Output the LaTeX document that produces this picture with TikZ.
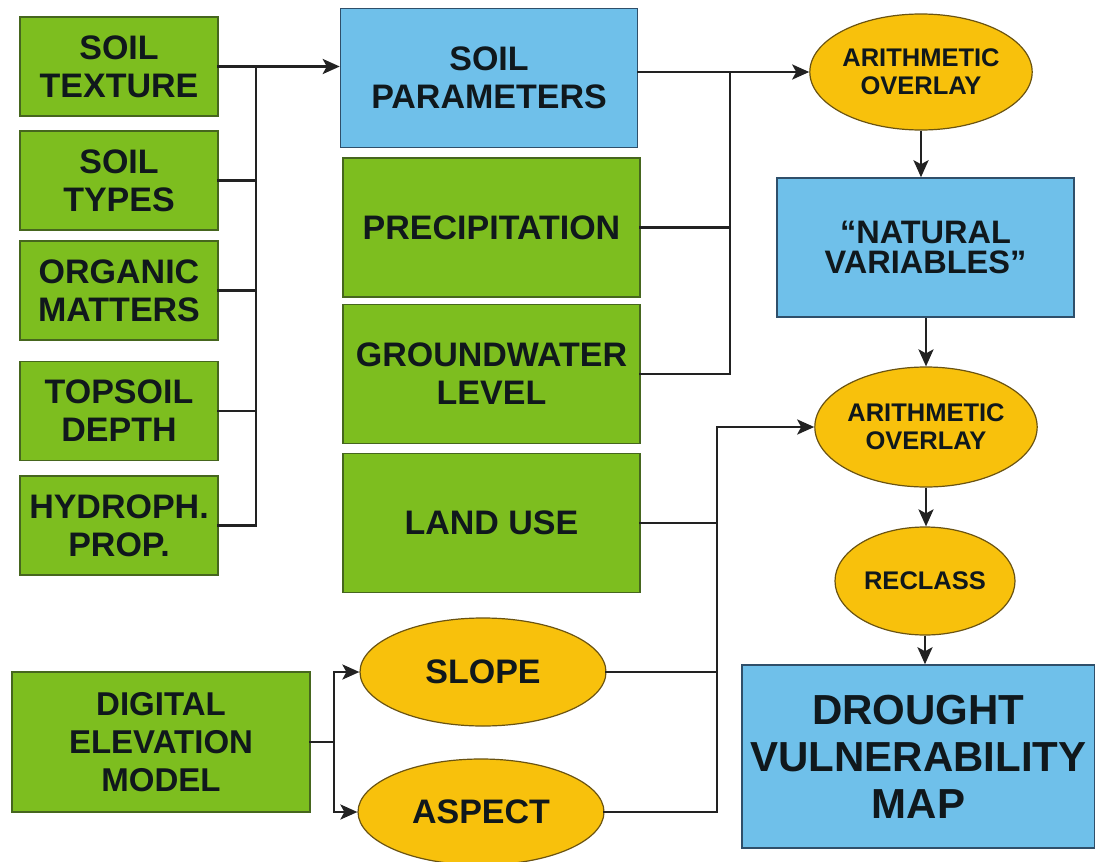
\documentclass[tikz,border=0pt]{standalone}
\usepackage{fontspec}
\setmainfont{Liberation Sans}
\usetikzlibrary{arrows.meta,shapes.geometric}
\definecolor{gfill}{HTML}{7DBE1F}
\definecolor{gdraw}{HTML}{46661E}
\definecolor{bfill}{HTML}{6FC0EA}
\definecolor{bdraw}{HTML}{2F4F6A}
\definecolor{ofill}{HTML}{F8C10C}
\definecolor{odraw}{HTML}{6A5312}
\definecolor{txt}{HTML}{10181C}
\definecolor{ln}{HTML}{222222}
\begin{document}
\begin{tikzpicture}[x=1pt,y=-1pt,
  every node/.style={inner sep=0pt, align=center, text=txt, font=\bfseries\fontsize{34}{38}\selectfont},
  greenbox/.style={rectangle, fill=gfill, draw=gdraw, line width=1.5pt},
  bluebox/.style={rectangle, fill=bfill, draw=bdraw, line width=1.5pt},
  oval/.style={ellipse, fill=ofill, draw=odraw, line width=1.2pt},
  lbox/.style={minimum width=198pt, minimum height=99pt},
  mbox/.style={minimum width=297pt, minimum height=139pt},
  smalltext/.style={font=\bfseries\fontsize{25.5}{28}\selectfont},
  conn/.style={draw=ln, line width=2.8pt, line cap=rect},
  arr/.style={draw=ln, line width=2.8pt, -{Stealth[length=17pt,width=15pt,inset=4pt]}},
]
\useasboundingbox (0,0) rectangle (1095,862);

% left column
\node[greenbox, lbox] (tex) at (119,66.5) {SOIL\\TEXTURE};
\node[greenbox, lbox] (typ) at (119,180.5) {SOIL\\TYPES};
\node[greenbox, lbox] (org) at (119,290.5) {ORGANIC\\MATTERS};
\node[greenbox, lbox] (top) at (119,411) {TOPSOIL\\DEPTH};
\node[greenbox, lbox] (hyd) at (119,525.5) {HYDROPH.\\PROP.};

% middle column
\node[bluebox, mbox] (par) at (489,78) {SOIL\\PARAMETERS};
\node[greenbox, mbox] (pre) at (491.5,227.5) {PRECIPITATION};
\node[greenbox, mbox] (gw) at (491.5,374) {GROUNDWATER\\LEVEL};
\node[greenbox, mbox] (lu) at (491.5,523) {LAND USE};

% DEM branch
\node[greenbox, minimum width=298pt, minimum height=140pt, font=\bfseries\fontsize{33}{38}\selectfont] (dem) at (161,742) {DIGITAL\\ELEVATION\\MODEL};
\node[oval, minimum width=246pt, minimum height=108pt] (slope) at (483,672) {SLOPE};
\node[oval, minimum width=246pt, minimum height=106pt] (asp) at (481,812) {ASPECT};

% right column
\node[oval, smalltext, minimum width=202pt, minimum height=116pt] (ov1) at (921,72) {ARITHMETIC\\OVERLAY};
\node[bluebox, mbox, font=\bfseries\fontsize{32.5}{30}\selectfont] (nat) at (925.5,247.5) {“NATURAL\\VARIABLES”};
\node[oval, smalltext, minimum width=204pt, minimum height=120pt] (ov2) at (926,427) {ARITHMETIC\\OVERLAY};
\node[oval, smalltext, minimum width=180pt, minimum height=108pt] (rec) at (925,581) {RECLASS};
\node[bluebox, minimum width=353pt, minimum height=183pt, font=\bfseries\fontsize{42}{47}\selectfont] (dvm) at (918.5,756.5) {DROUGHT\\VULNERABILITY\\MAP};

% bus coordinates
\coordinate (b1) at (256,0);
\coordinate (b2) at (730,0);
\coordinate (b3) at (717,0);
\coordinate (b4) at (334,0);

% left bus
\foreach \n in {tex,typ,org,top,hyd} \draw[conn] (\n.east) -- (\n.east -| b1);
\draw[conn] (tex.east -| b1) -- (hyd.east -| b1);
\draw[arr] (tex.east -| b1) -- (tex.east -| par.west);

% middle bus
\draw[conn] (par.east |- ov1.west) -- (ov1.west -| b2);
\draw[arr] (ov1.west -| b2) -- (ov1.west);
\foreach \n in {pre,gw} \draw[conn] (\n.east) -- (\n.east -| b2);
\draw[conn] (ov1.west -| b2) -- (gw.east -| b2);

% right chain
\draw[arr] (ov1.south) -- (ov1.south |- nat.north);
\draw[arr] (nat.south -| ov2.north) -- (ov2.north);
\draw[arr] (ov2.south) -- (ov2.south |- rec.north);
\draw[arr] (rec.south) -- (rec.south |- dvm.north);

% lower bus
\foreach \n in {lu,slope,asp} \draw[conn] (\n.east) -- (\n.east -| b3);
\draw[conn] (ov2.west -| b3) -- (asp.east -| b3);
\draw[arr] (ov2.west -| b3) -- (ov2.west);

% DEM bus
\draw[conn] (dem.east) -- (dem.east -| b4);
\draw[conn] (slope.west -| b4) -- (asp.west -| b4);
\draw[arr] (slope.west -| b4) -- (slope.west);
\draw[arr] (asp.west -| b4) -- (asp.west);
\end{tikzpicture}
\end{document}
